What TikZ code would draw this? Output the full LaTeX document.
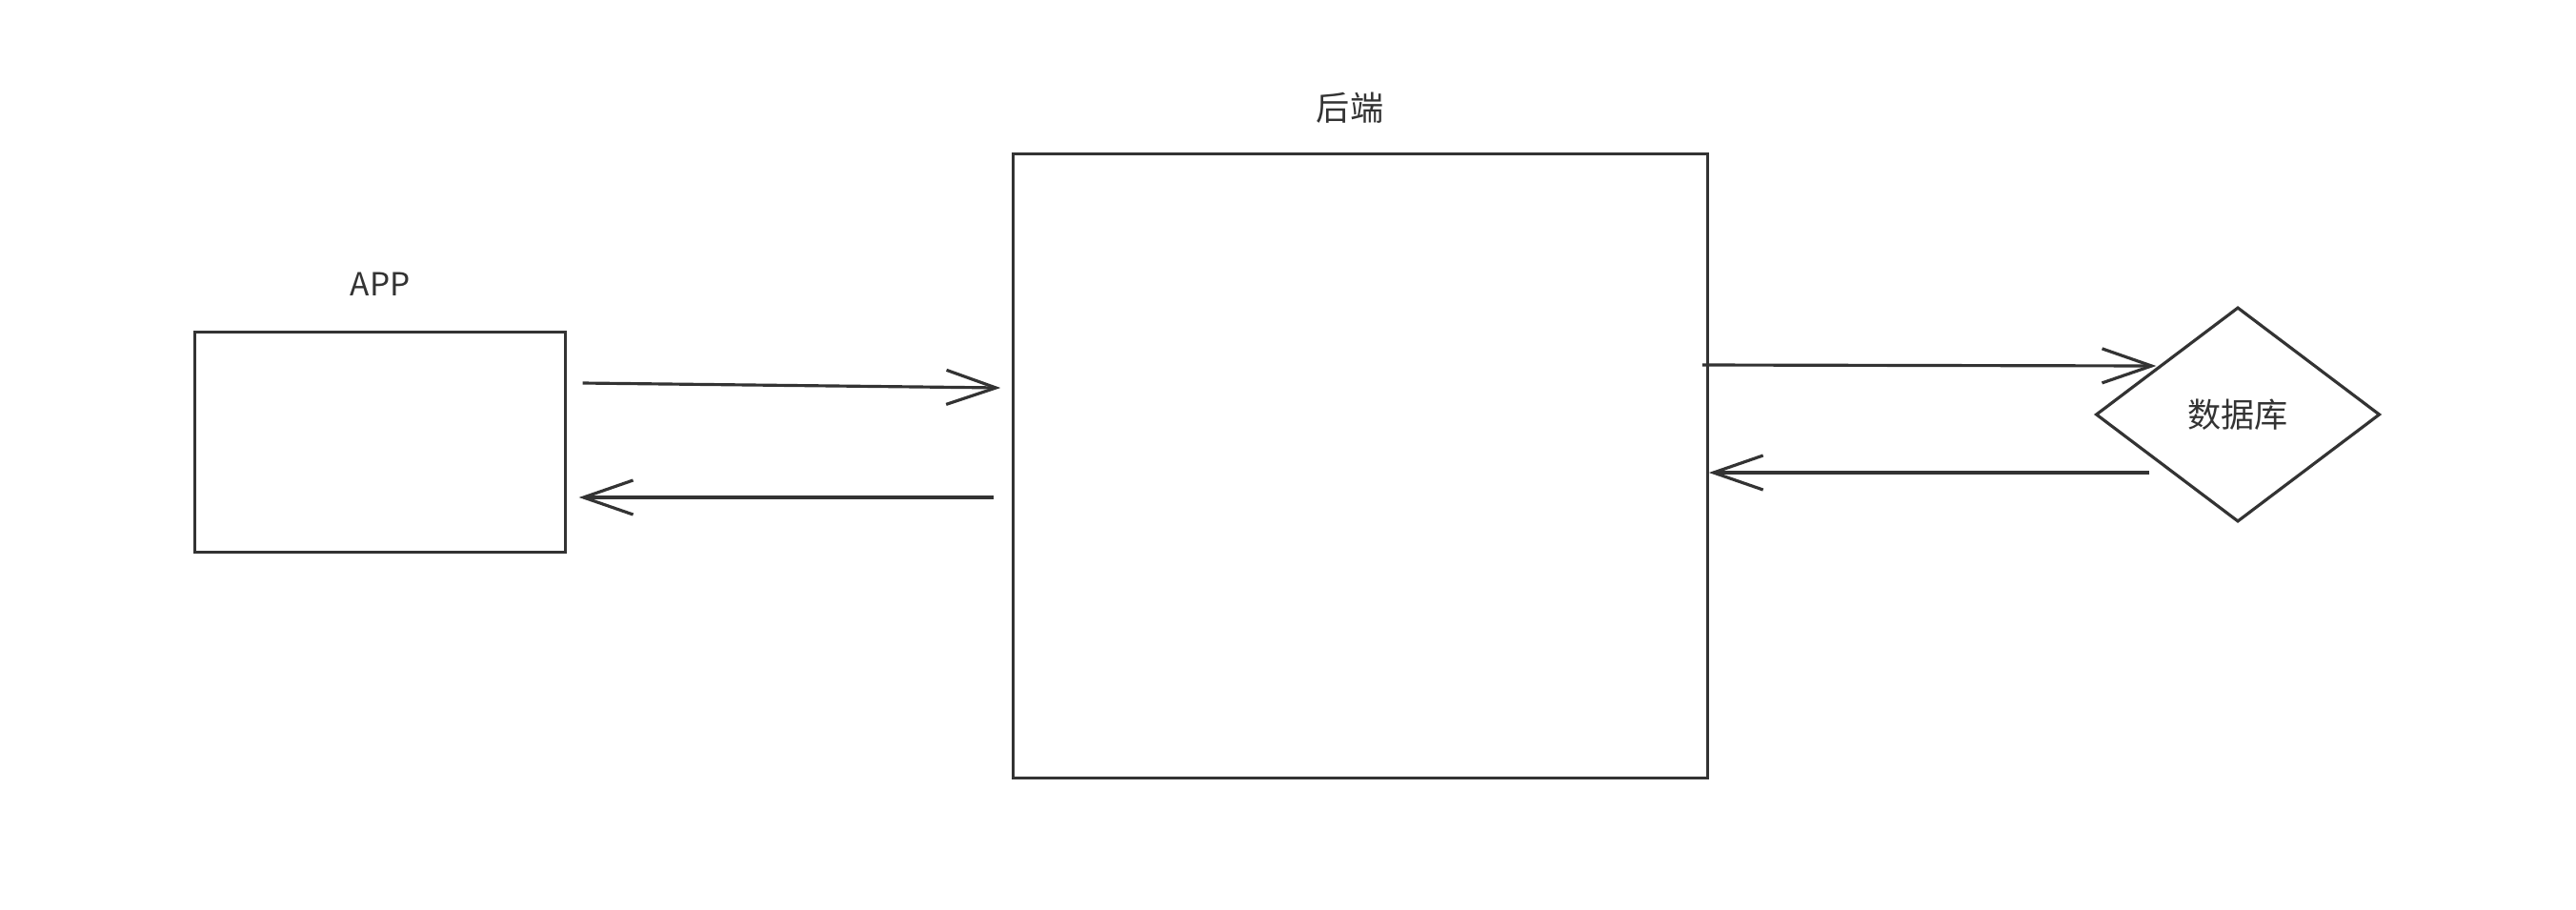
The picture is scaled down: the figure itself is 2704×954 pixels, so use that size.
\documentclass[tikz,border=0pt]{standalone}
\usepackage{fontspec}
\setmainfont{Noto Sans CJK SC}
\usetikzlibrary{positioning, shapes.geometric, arrows.meta, calc}
\definecolor{ink}{HTML}{333333}

\begin{document}
\begin{tikzpicture}[x=0.01cm, y=-0.01cm, line width=0.9pt, color=ink,
  font=\fontsize{10}{12}\selectfont,
  box/.style={draw, rectangle, inner sep=0pt},
  store/.style={draw, diamond, minimum width=2.98cm, minimum height=2.25cm, inner sep=0pt},
  arr/.style={-{Straight Barb[length=0.52cm, width=0.36cm]}}]
\useasboundingbox[fill=white] (0,0) rectangle (2704,954);
\node[box, minimum width=3.88cm, minimum height=2.31cm] (app) at (399,464) {};
\node[box, minimum width=7.28cm, minimum height=6.55cm] (backend) at (1428,489) {};
\node[store] (db) at (2349,435) {数据库};
\node[above=0.35cm of app, inner sep=0pt, font=\fontsize{9.5}{11}\selectfont] (applabel) {APP};
\node[above=0.29cm of backend, xshift=-0.11cm, inner sep=0pt] (backendlabel) {后端};
\draw[arr] ($(app.east)+(17,-62)$) -- ($(backend.west)+(-12,-82)$);
\draw[arr] ($(backend.west)+(-19,33)$) -- ($(app.east)+(13,58)$);
\draw[arr] ($(backend.east)+(-7,-106)$) -- ($(db.west)+(65,-51)$);
\draw[arr] ($(db.west)+(58,61)$) -- ($(backend.east)+(0,7)$);
\end{tikzpicture}
\end{document}
